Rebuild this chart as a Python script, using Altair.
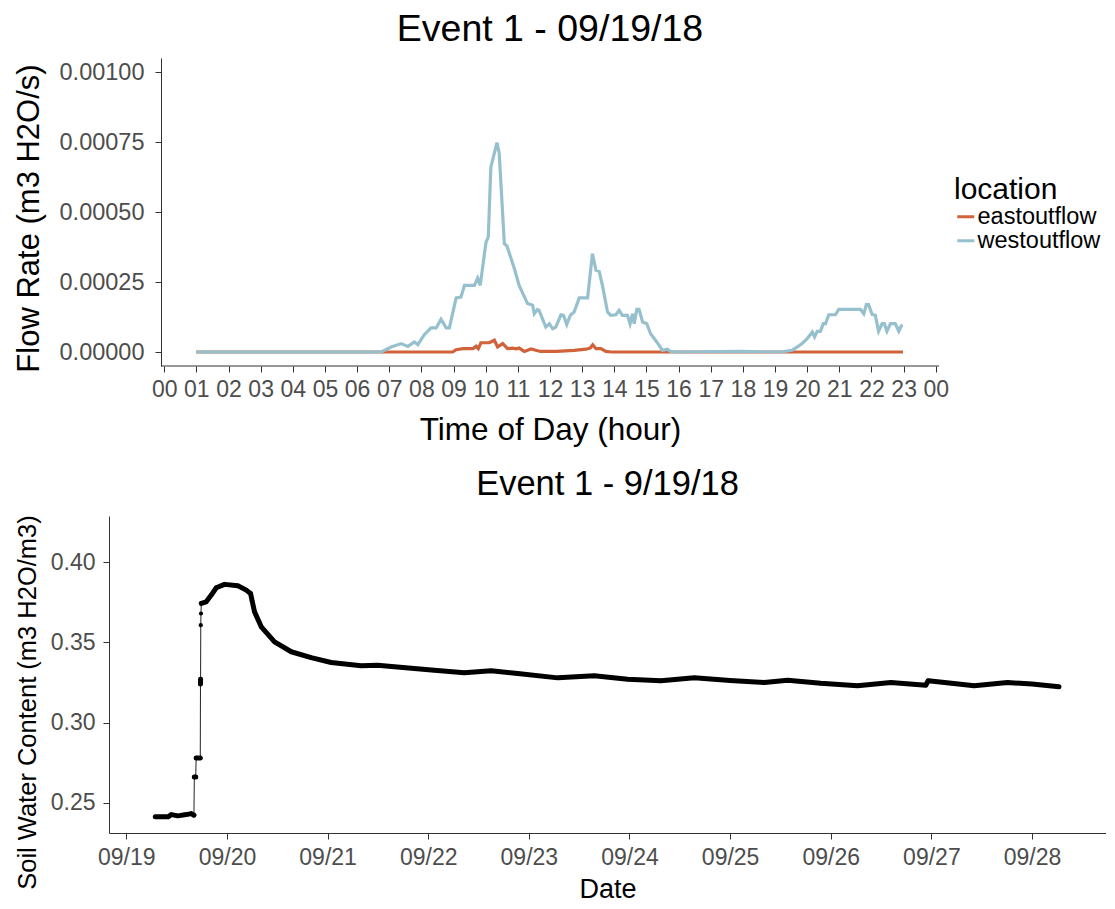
import altair as alt
import pandas as pd

# ---------------- top chart data (hours of day, m3/s) ----------------
west_hour = [1.0, 6.75, 7.06, 7.37, 7.58, 7.78, 7.89, 8.09, 8.30, 8.46, 8.61, 8.77, 8.87,
             9.08, 9.23, 9.34, 9.65, 9.75, 9.83, 10.01, 10.08, 10.16, 10.35, 10.42, 10.58,
             10.66, 10.89, 11.04, 11.30, 11.46, 11.51, 11.61, 11.66, 11.87, 11.98, 12.08,
             12.18, 12.34, 12.42, 12.52, 12.63, 12.75, 12.91, 13.17, 13.32, 13.43, 13.53,
             13.63, 13.79, 13.89, 14.05, 14.15, 14.25, 14.41, 14.49, 14.57, 14.62, 14.70,
             14.77, 14.88, 15.01, 15.13, 15.32, 15.50, 15.65, 15.75, 16.0, 17.9, 19.17,
             19.53, 19.69, 19.84, 20.0, 20.16, 20.23, 20.31, 20.41, 20.5, 20.57, 20.67,
             20.88, 20.98, 21.66, 21.76, 21.84, 21.91, 22.02, 22.12, 22.22, 22.33, 22.40,
             22.48, 22.59, 22.74, 22.85, 22.95]
west_flow = [0.0, 0.0, 0.000018, 0.00003, 0.00002, 0.000036, 0.000026, 0.000062, 0.000086,
             0.000086, 0.000117, 0.000086, 0.000086, 0.000193, 0.000196, 0.000238, 0.000238,
             0.000264, 0.000238, 0.000393, 0.00041, 0.00066, 0.000748, 0.00071, 0.000387,
             0.000379, 0.000298, 0.000238, 0.000173, 0.000167, 0.000137, 0.000152, 0.000149,
             0.000089, 0.000101, 0.000083, 0.000089, 0.000133, 0.000131, 0.000098, 0.000131,
             0.000143, 0.000193, 0.000193, 0.000351, 0.000292, 0.000288, 0.000238, 0.000143,
             0.000131, 0.000133, 0.000149, 0.000131, 0.000131, 0.000101, 0.000137, 0.000101,
             0.000152, 0.000152, 0.000107, 0.000101, 0.000065, 0.000036, 0.000006, 0.00001,
             0.000002, 0.0, 0.000002, 0.0, 0.000006, 0.000018, 0.00003, 0.000048, 0.000071,
             0.000054, 0.000074, 0.000074, 0.000101, 0.000101, 0.000133, 0.000133, 0.000152,
             0.000152, 0.000137, 0.000169, 0.000169, 0.000134, 0.000131, 0.000074, 0.000101,
             0.000101, 0.000074, 0.000101, 0.000101, 0.000074, 0.000098]

east_hour = [1.0, 8.97, 9.08, 9.29, 9.6, 9.7, 9.77, 9.85, 10.11, 10.27, 10.37, 10.53, 10.68,
             10.84, 10.94, 11.04, 11.2, 11.41, 11.56, 11.7, 12.2, 12.75, 13.12, 13.25, 13.33,
             13.43, 13.58, 13.74, 13.9, 22.98]
east_flow = [0.0, 0.0, 0.000008, 0.000012, 0.000012, 0.000021, 0.000012, 0.000033, 0.000033,
             0.000042, 0.000018, 0.00003, 0.000012, 0.000014, 0.000011, 0.000014, 0.000002,
             0.000011, 0.000006, 0.000002, 0.000002, 0.000006, 0.00001, 0.000014, 0.000026,
             0.000012, 0.000012, 0.000002, 0.0, 0.0]

locations = ["eastoutflow", "westoutflow"]
loc_colors = ["#D1623A", "#97C0CE"]
hour_ticks = list(range(25))
flow_ticks = [0.0, 0.00025, 0.0005, 0.00075, 0.001]
hour_range = [-0.1, 24.1]          # panel range of the hour axis
flow_range = [-0.00005, 0.00105]   # panel range of the flow axis

# ---------------- bottom chart data (days after 09/19 00:00) ----------------
soil_day = [0.288, 0.414, 0.447, 0.513, 0.596, 0.645, 0.672,
            0.676, 0.690,
            0.694, 0.735,
            0.737, 0.738,
            0.740,
            0.742,
            0.745, 0.794, 0.844, 0.894, 0.976, 1.109, 1.192, 1.235, 1.249, 1.274, 1.341,
            1.473, 1.639, 1.837, 2.036, 2.333, 2.498, 2.663, 3.06, 3.358, 3.625, 3.89,
            4.287, 4.65, 4.982, 5.313, 5.644, 6.0, 6.339, 6.571, 6.9, 7.266, 7.597, 7.944,
            7.968, 8.2, 8.425, 8.756, 9.0, 9.268]
soil_vwc = [0.2411, 0.2411, 0.2425, 0.2417, 0.2425, 0.2431, 0.2421,
            0.2660, 0.2660,
            0.2779, 0.2779,
            0.3240, 0.3270,
            0.3608,
            0.3681,
            0.3744, 0.3754, 0.3796, 0.3842, 0.3863, 0.3854, 0.3827, 0.3806, 0.3764, 0.3692,
            0.3598, 0.3504, 0.3442, 0.3405, 0.3375, 0.3354, 0.3358, 0.3348, 0.3327, 0.3311,
            0.3323, 0.3306, 0.3279, 0.3292, 0.3271, 0.3261, 0.3279, 0.3262, 0.3250, 0.3264,
            0.3245, 0.3230, 0.3250, 0.3233, 0.3261, 0.3245, 0.3230, 0.3250, 0.3240, 0.3223]
soil_seg = ["a"] * 7 + ["b"] * 2 + ["c"] * 2 + ["d"] * 2 + ["p1"] + ["p2"] + ["e"] * 40
day_ticks = list(range(10))
vwc_ticks = [0.25, 0.30, 0.35, 0.40]

# ---------------- tables ----------------
east_df = pd.DataFrame({"hour": east_hour, "flow": east_flow, "location": "eastoutflow"})
west_df = pd.DataFrame({"hour": west_hour, "flow": west_flow, "location": "westoutflow"})
xline_df = pd.DataFrame({"hour": [hour_range[0]], "hour2": [hour_range[1]],
                         "flow": [flow_range[0]]})
soil_df = pd.DataFrame({"day": soil_day, "vwc": soil_vwc, "seg": soil_seg,
                        "idx": list(range(len(soil_day)))})

AX = "#333333"
TICKLAB = "#4D4D4D"
PX_PER_HOUR = 778 / (hour_range[1] - hour_range[0])
LEFT_SHIFT = 52  # top panel starts this many px to the right of the bottom panel
top_domain_lo = hour_range[0] - LEFT_SHIFT / PX_PER_HOUR

hour_label = ("datum.value == 24 ? '00' : (datum.value < 10 ? '0' + datum.value : '' + datum.value)")

x_top = alt.X("hour:Q",
              scale=alt.Scale(domain=[top_domain_lo, hour_range[1]], nice=False, zero=False),
              axis=alt.Axis(values=hour_ticks, labelExpr=hour_label, title="Time of Day (hour)",
                            labelFontSize=23, titleFontSize=31.5, labelColor=TICKLAB,
                            titleColor="black", titleFontWeight="normal", tickSize=6,
                            labelPadding=6, titlePadding=13, grid=False, domain=False,
                            tickColor=AX, labelFlush=False, labelOverlap=False,
                            titleX=LEFT_SHIFT + 389))
y_top = alt.Y("flow:Q",
              scale=alt.Scale(domain=flow_range, nice=False, zero=False),
              axis=alt.Axis(values=flow_ticks, format=".5f", title="Flow Rate (m3 H2O/s)",
                            labelFontSize=23.5, titleFontSize=31, labelColor=TICKLAB,
                            titleColor="black", titleFontWeight="normal", tickSize=6,
                            labelPadding=11, titlePadding=14, grid=False, domainColor=AX,
                            tickColor=AX, labelFlush=False, offset=-LEFT_SHIFT,
                            titleY=160, titleAlign="center"))
color_top = alt.Color("location:N",
                      scale=alt.Scale(domain=locations, range=loc_colors),
                      legend=alt.Legend(title="location", orient="none",
                                        legendX=LEFT_SHIFT + 793, legendY=117,
                                        titleFontSize=30, titleFontWeight="normal",
                                        titleColor="black", labelFontSize=23.5, labelColor="black",
                                        symbolType="stroke", symbolStrokeWidth=3, symbolSize=289,
                                        rowPadding=-8, titlePadding=0, labelOffset=0, padding=0))

xline = alt.Chart(xline_df).mark_rule(color=AX, strokeWidth=1).encode(x=x_top, x2="hour2:Q", y=y_top)
east_line = alt.Chart(east_df).mark_line(strokeWidth=3.2).encode(x=x_top, y=y_top, color=color_top)
west_line = alt.Chart(west_df).mark_line(strokeWidth=3.2).encode(x=x_top, y=y_top, color=color_top)

top = alt.layer(east_line, west_line, xline).properties(
    width=778 + LEFT_SHIFT, height=308,
    title=alt.TitleParams("Event 1 - 09/19/18", fontSize=37.5, fontWeight="normal",
                          anchor="middle", offset=10, color="black", dx=LEFT_SHIFT / 2,
                          frame="group"))

x_bot = alt.X("day:Q",
              scale=alt.Scale(domain=[-0.172, 9.735], nice=False, zero=False),
              axis=alt.Axis(values=day_ticks, labelExpr="'09/' + (19 + datum.value)", title="Date",
                            labelFontSize=23, titleFontSize=27, labelColor=TICKLAB,
                            titleColor="black", titleFontWeight="normal", tickSize=6,
                            labelPadding=7, titlePadding=7, grid=False, domainColor=AX,
                            tickColor=AX, labelFlush=False))
y_bot = alt.Y("vwc:Q",
              scale=alt.Scale(domain=[0.231, 0.429], nice=False, zero=False),
              axis=alt.Axis(values=vwc_ticks, format=".2f", title="Soil Water Content (m3 H2O/m3)",
                            labelFontSize=23, titleFontSize=25.5, labelColor=TICKLAB,
                            titleColor="black", titleFontWeight="normal", tickSize=6,
                            labelPadding=8, titlePadding=10, grid=False, domainColor=AX,
                            tickColor=AX, labelFlush=False, titleY=186, titleAlign="center"))

base = alt.Chart(soil_df)
thin = base.mark_line(strokeWidth=1, color="#222222").encode(x=x_bot, y=y_bot, order="idx:Q")
thick = base.transform_filter("datum.seg != 'p1' && datum.seg != 'p2'").mark_line(
    strokeWidth=5, color="black", strokeCap="round", strokeJoin="round").encode(
    x=x_bot, y=y_bot, detail="seg:N", order="idx:Q")
dots = base.mark_circle(size=18, color="black", opacity=1).encode(x=x_bot, y=y_bot)

bottom = alt.layer(thin, thick, dots).properties(
    width=997, height=317,
    title=alt.TitleParams("Event 1 - 9/19/18", fontSize=34.5, fontWeight="normal",
                          anchor="middle", offset=12, color="black", frame="group"))

chart = alt.vconcat(top, bottom, spacing=21).properties(
    padding={"left": 5, "right": 0, "top": 2, "bottom": 0}
).configure(font="Liberation Sans").configure_view(stroke=None).configure_axis(
    domainWidth=1, tickWidth=1)

chart.save("out.html", embed_options={"renderer": "svg", "actions": False})
